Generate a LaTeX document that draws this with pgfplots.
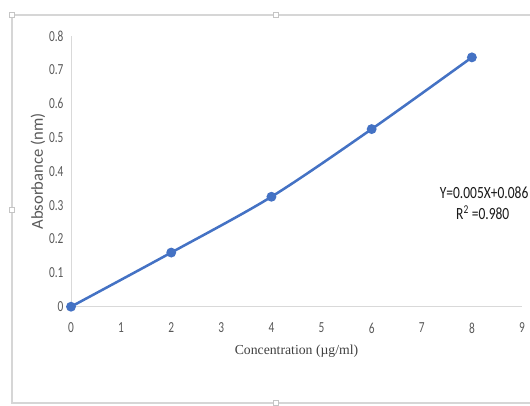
\documentclass[border=0pt]{standalone}
\usepackage{fontspec}
\setmainfont{Carlito}
\newfontfamily\tnr{Liberation Serif}
\usepackage{pgfplots}
\pgfplotsset{compat=1.18}
\definecolor{linec}{HTML}{4472C4}
\definecolor{tickc}{HTML}{595959}
\definecolor{axc}{HTML}{D9D9D9}
\definecolor{framec}{HTML}{D6D6D6}
\definecolor{xlabc}{HTML}{404040}
\begin{document}
\begin{tikzpicture}[x=0.75pt,y=0.75pt]
\useasboundingbox (0,0) rectangle (530,405);
\draw[framec, line width=1.1pt] (530,390) -- (12,390) -- (12,2) -- (530,2);
\foreach \p in {(12,390),(276,390),(12,195),(276,2)}
  \draw[fill=white, draw=framec!80!gray, line width=0.5pt] \p ++(-2.5,-2.5) rectangle ++(5,5);
\begin{axis}[
  at={(53.25pt,73.725pt)}, anchor=south west, scale only axis,
  width=338.25pt, height=203pt,
  xmin=0, xmax=9, ymin=0, ymax=0.8,
  clip=false,
  axis x line=bottom, axis y line=left,
  axis line style={axc, line width=0.75pt, -},
  xtick={0,1,2,3,4,5,6,7,8,9},
  xticklabels={0,1,2,3,4,5,6,7,8,9},
  ytick={0,0.1,0.2,0.3,0.4,0.5,0.6,0.7,0.8},
  yticklabels={0,0.1,0.2,0.3,0.4,0.5,0.6,0.7,0.8},
  major tick length=0pt,
  tick label style={font=\fontsize{11.5}{13}\selectfont, text=tickc, inner sep=0pt, xscale=0.74},
  xticklabel style={anchor=north, yshift=-12pt},
  yticklabel style={anchor=east, xshift=-7.5pt},
  ylabel={Absorbance (nm)},
  ylabel style={at={(axis description cs:-0.0732,0.5)}, anchor=center, rotate=0, font=\fontsize{12.5}{14}\selectfont, text=tickc},
  xlabel={Concentration (µg/ml)},
  xlabel style={at={(axis description cs:0.5,-0.164)}, anchor=center, font=\tnr\fontsize{10.3}{12}\selectfont, text=xlabc},
]
\addplot[linec, line width=1.9pt, smooth, mark=*, mark size=2.7pt, mark options={fill=linec, draw=linec}]
  coordinates {(0,0) (2,0.16) (4,0.325) (6,0.525) (8,0.737)};
\node[anchor=base, font=\fontsize{12.8}{14}\selectfont, xscale=0.79, text=black!90] at (axis description cs:0.916,0.4016) {Y=0.005X+0.086};
\node[anchor=base, font=\fontsize{12.8}{14}\selectfont, xscale=0.79, text=black!90] at (axis description cs:0.913,0.324) {R\textsuperscript{2} =0.980};
\end{axis}
\end{tikzpicture}
\end{document}
